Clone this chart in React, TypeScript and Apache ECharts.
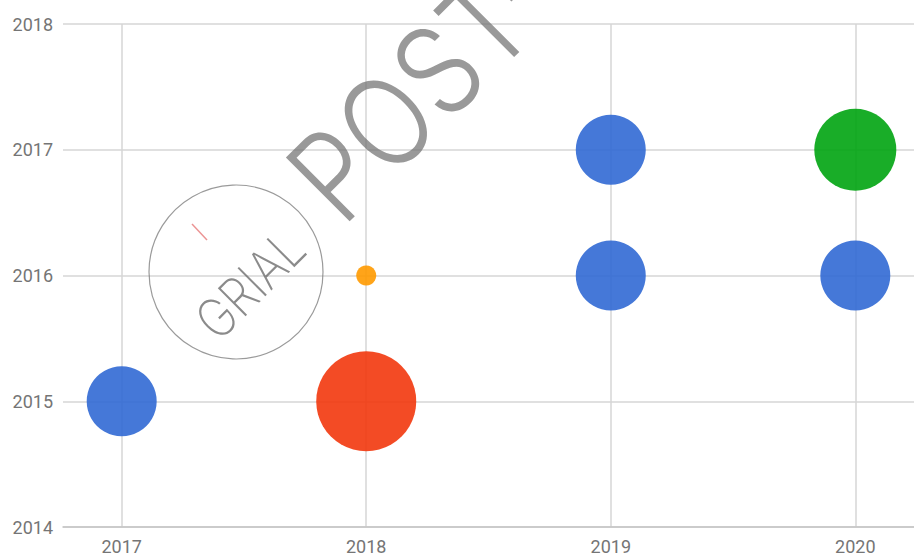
import React, { useEffect, useRef } from "react";
import * as echarts from "echarts";

const xTicks = [2017, 2018, 2019, 2020];
const yTicks = [2014, 2015, 2016, 2017, 2018];

// [x, y, size]
const blueSeries = [
  [2017, 2015, 6],
  [2019, 2016, 6],
  [2019, 2017, 6],
  [2020, 2016, 6],
];
const redSeries = [[2018, 2015, 9]];
const orangeSeries = [[2018, 2016, 1]];
const greenSeries = [[2020, 2017, 7.2]];

const seriesNames = ["A", "B", "C", "D"];
const seriesColors = ["#3169d4", "#f2370d", "#ff9a00", "#00a411"];
const seriesData = [blueSeries, redSeries, orangeSeries, greenSeries];

const watermarkMain = "POST-";
const watermarkLogo = "GRIAL";

export default function App() {
  const ref = useRef<HTMLDivElement>(null);
  useEffect(() => {
    if (!ref.current) return;
    const chart = echarts.init(ref.current, undefined, { renderer: "svg" });
    const labelStyle = {
      color: "#757575",
      fontSize: 18,
      fontFamily: "Roboto",
    };
    const gridLine = { show: true, lineStyle: { color: "#d6d6d6", width: 1.5 } };
    chart.setOption({
      animation: false,
      grid: { left: 63, right: 0, top: 24, bottom: 29, containLabel: false },
      xAxis: {
        type: "value",
        min: 2016.76,
        max: 2020.24,
        axisLine: { show: true, lineStyle: { color: "#c4c4c4", width: 1.5 } },
        axisTick: { show: false, customValues: xTicks },
        axisLabel: {
          ...labelStyle,
          margin: 10,
          customValues: xTicks,
          formatter: (v: number) => String(v),
        },
        splitLine: gridLine,
      },
      yAxis: {
        type: "value",
        min: yTicks[0],
        max: yTicks[yTicks.length - 1],
        interval: 1,
        axisLine: { show: false },
        axisTick: { show: false },
        axisLabel: { ...labelStyle, margin: 10, formatter: (v: number) => String(v) },
        splitLine: gridLine,
      },
      series: seriesData.map((d, i) => ({
        name: seriesNames[i],
        type: "scatter",
        data: d,
        symbolSize: (val: number[]) => 2 * (10 + 5 * (val[2] - 1)),
        itemStyle: { color: seriesColors[i], opacity: 0.9 },
        emphasis: { disabled: true },
        z: 3,
      })),
      graphic: [
        {
          type: "circle",
          shape: { cx: 236, cy: 272, r: 87 },
          style: { fill: "none", stroke: "rgba(120,120,120,0.75)", lineWidth: 1.2 },
          z: 100,
        },
        {
          type: "text",
          x: 250,
          y: 284,
          rotation: Math.PI / 4,
          scaleX: 0.9,
          scaleY: 1.08,
          style: {
            text: watermarkLogo,
            fontFamily: "Inter",
            fontWeight: 200,
            fontSize: 50,
            fill: "rgba(110,110,110,0.8)",
            align: "center",
            verticalAlign: "middle",
          },
          z: 100,
        },
        {
          type: "line",
          shape: { x1: 192, y1: 224, x2: 207, y2: 240 },
          style: { stroke: "rgba(230,120,120,0.8)", lineWidth: 1.5 },
          z: 100,
        },
        {
          type: "text",
          x: 311,
          y: 197,
          rotation: Math.PI / 4,
          scaleX: 0.85,
          style: {
            text: watermarkMain,
            fontFamily: "Inter",
            fontWeight: 300,
            fontSize: 124,
            fill: "rgba(110,110,110,0.7)",
            align: "left",
            verticalAlign: "middle",
          },
          z: 100,
        },
      ],
    });
    return () => chart.dispose();
  }, []);
  return (
    <div
      ref={ref}
      style={{ position: "absolute", left: 0, top: 0, width: 914, height: 556, background: "#fff" }}
    />
  );
}
